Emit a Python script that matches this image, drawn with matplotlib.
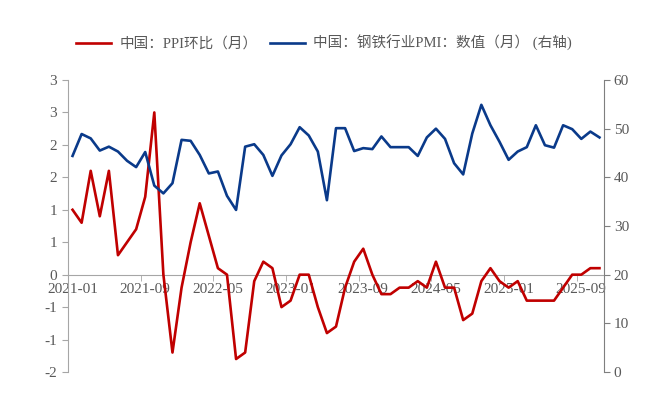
import numpy as np
import pandas as pd
import matplotlib
matplotlib.use('Agg')
import matplotlib.pyplot as plt

plt.rcParams['font.family'] = ['Liberation Serif', 'Noto Sans CJK SC', 'DejaVu Sans']

# monthly data 2021-01 .. 2025-11
months = pd.period_range('2021-01', '2025-11', freq='M').strftime('%Y-%m').tolist()

ppi_mom = [1.0, 0.8, 1.6, 0.9, 1.6, 0.3, 0.5, 0.7, 1.2, 2.5, 0.0, -1.2,
           -0.2, 0.5, 1.1, 0.6, 0.1, 0.0, -1.3, -1.2, -0.1, 0.2, 0.1, -0.5,
           -0.4, 0.0, 0.0, -0.5, -0.9, -0.8, -0.2, 0.2, 0.4, 0.0, -0.3, -0.3,
           -0.2, -0.2, -0.1, -0.2, 0.2, -0.2, -0.2, -0.7, -0.6, -0.1, 0.1, -0.1,
           -0.2, -0.1, -0.4, -0.4, -0.4, -0.4, -0.2, 0.0, 0.0, 0.1, 0.1]

steel_pmi = [44.4, 48.9, 48.0, 45.5, 46.3, 45.3, 43.4, 42.1, 45.2, 38.3, 36.7, 38.8,
             47.7, 47.5, 44.6, 40.8, 41.2, 36.2, 33.3, 46.3, 46.8, 44.6, 40.3, 44.5,
             46.8, 50.3, 48.6, 45.3, 35.3, 50.1, 50.1, 45.4, 46.0, 45.8, 48.4, 46.2,
             46.2, 46.2, 44.4, 48.2, 50.0, 47.9, 42.9, 40.6, 49.0, 54.9, 50.7, 47.3,
             43.6, 45.3, 46.2, 50.7, 46.6, 46.1, 50.7, 49.9, 47.9, 49.4, 48.2]

left_ticks = np.arange(-1.5, 3.01, 0.5)
left_labels = ['-2', '-1', '-1', '0', '1', '1', '2', '2', '3', '3']

red = '#c00000'
blue = '#0a3a8a'
grey = '#595959'

fig = plt.figure(figsize=(6.6, 4.15), dpi=100)
ax = fig.add_axes([68 / 660, 43 / 415, 536 / 660, 292 / 415])
ax2 = ax.twinx()

x = np.arange(len(months))
l1, = ax.plot(x, ppi_mom, color=red, lw=1.9, label='中国：PPI环比（月）', zorder=3)
l2, = ax2.plot(x, steel_pmi, color=blue, lw=1.9, label='中国：钢铁行业PMI：数值（月） (右轴)')

ax.set_xlim(-0.5, len(months) - 0.5)
ax.set_ylim(-1.5, 3.0)
ax2.set_ylim(0, 60)

ax.set_yticks(left_ticks)
ax.set_yticklabels(left_labels)
ax2.set_yticks(np.arange(0, 61, 10))

# category labels every 8 months, tick marks between categories
ax.set_xticks(x[::8])
ax.set_xticklabels([months[i] for i in x[::8]])
ax.set_xticks(x[::8] - 0.5, minor=True)
ax.tick_params(axis='x', which='major', length=0, labelsize=11, colors=grey, pad=6)
ax.tick_params(axis='x', which='minor', length=4, color='#a6a6a6', direction='out')
ax.tick_params(axis='y', length=4, labelsize=11, colors=grey, color='#a6a6a6', pad=4)
ax2.tick_params(axis='y', length=4, labelsize=11, colors=grey, color='#7f7f7f', pad=3)

ax.spines['bottom'].set_position(('data', 0))
ax.spines['bottom'].set_color('#a6a6a6')
ax.spines['left'].set_color('#a6a6a6')
ax.spines['top'].set_visible(False)
ax.spines['right'].set_visible(False)
for s in ['top', 'left', 'bottom']:
    ax2.spines[s].set_visible(False)
ax2.spines['right'].set_color('#7f7f7f')

for t in ax.get_xticklabels():
    t.set_zorder(1)

fig.legend(handles=[l1, l2], loc='center', bbox_to_anchor=(324 / 660, 1 - 43 / 415),
           ncol=2, frameon=False, fontsize=10.5, handlelength=2.4,
           columnspacing=0.8, handletextpad=0.6, labelcolor=grey)

fig.savefig('out.png', dpi=100, facecolor='white')
